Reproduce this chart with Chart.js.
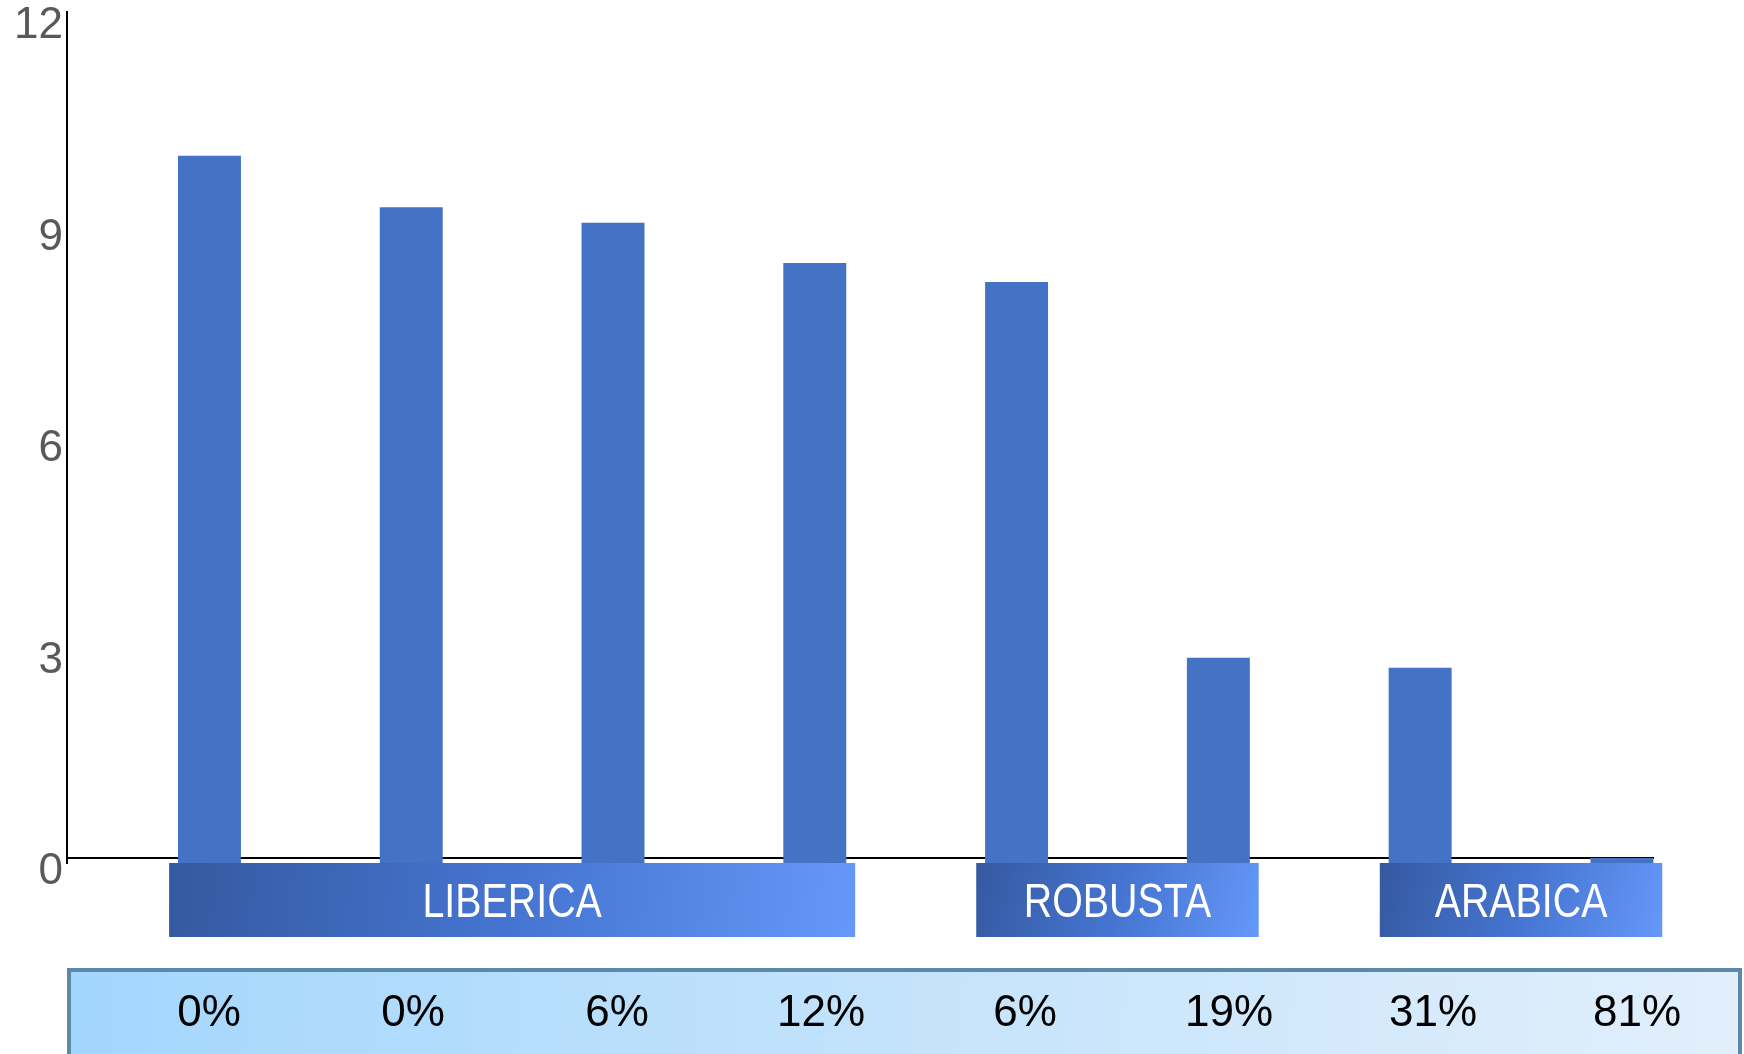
<!DOCTYPE html>
<html>
<head>
<meta charset="utf-8">
<script src="https://cdn.jsdelivr.net/npm/chart.js@4/dist/chart.umd.min.js"></script>
<style>
  html, body { margin: 0; padding: 0; background: #fff; }
  #wrap { width: 1744px; height: 1054px; position: relative; }
</style>
</head>
<body>
<div id="wrap"><canvas id="beanChart"></canvas></div>
<script>
// bar values, one per sample
const values = [9.96, 9.23, 9.01, 8.44, 8.17, 2.84, 2.70, 0];
// share row under the chart
const shares = ['0%', '0%', '6%', '12%', '6%', '19%', '31%', '81%'];
// species groups (first and last bar index)
const groupNames = ['LIBERICA', 'ROBUSTA', 'ARABICA'];
const groupFirst = [0, 4, 6];
const groupLast = [3, 5, 7];
const yTicks = [0, 3, 6, 9, 12];

Chart.defaults.font.family = "'Liberation Sans', Arial, sans-serif";

const slotTicks = s => { s.ticks = values.map((v, i) => ({ value: i })); };

// group boxes + share strip below the plot
const bottomRows = {
    id: 'bottomRows',
    afterDraw(chart) {
        const ctx = chart.ctx;
        const x = chart.scales.x;
        const pct = chart.scales.pct;
        const top = chart.chartArea.bottom;
        const h = 74;

        ctx.save();
        groupNames.forEach((name, i) => {
            const left = x.getPixelForValue(groupFirst[i] - 0.2);
            const right = x.getPixelForValue(groupLast[i] + 0.2);
            const g = ctx.createLinearGradient(left, top, right, top + h);
            g.addColorStop(0, '#3559a0');
            g.addColorStop(0.5, '#4574d0');
            g.addColorStop(1, '#6598fa');
            ctx.fillStyle = g;
            ctx.fillRect(left, top, right - left, h);

            // narrow caps: squeeze regular sans horizontally
            ctx.save();
            ctx.translate((left + right) / 2, top + 54);
            ctx.scale(0.82, 1);
            ctx.fillStyle = '#fff';
            ctx.font = "48px 'Liberation Sans', Arial, sans-serif";
            ctx.textAlign = 'center';
            ctx.textBaseline = 'alphabetic';
            ctx.fillText(name, 0, 0);
            ctx.restore();
        });

        // share strip
        const sx = chart.chartArea.left;
        const sy = 968;
        const sw = chart.width - sx - 2;
        const sh = 90;
        const g2 = ctx.createLinearGradient(sx, sy, sx + sw, sy + sh);
        g2.addColorStop(0, '#a3d6fd');
        g2.addColorStop(0.5, '#c4e3fb');
        g2.addColorStop(1, '#e2effb');
        ctx.fillStyle = g2;
        ctx.fillRect(sx, sy, sw, sh);
        ctx.strokeStyle = '#5a8aa8';
        ctx.lineWidth = 4;
        ctx.strokeRect(sx + 2, sy + 2, sw - 4, sh);

        ctx.fillStyle = '#000';
        ctx.font = "44px 'Liberation Sans', Arial, sans-serif";
        ctx.textAlign = 'center';
        ctx.textBaseline = 'alphabetic';
        shares.forEach((s, i) => {
            ctx.fillText(s, pct.getPixelForValue(i), 1026);
        });
        ctx.restore();
    }
};

new Chart(document.getElementById('beanChart'), {
    type: 'bar',
    data: {
        datasets: [{
            data: values.map((v, i) => ({ x: i, y: v })),
            backgroundColor: '#4472c4',
            borderWidth: 0,
            base: -0.071,
            barPercentage: 0.312,
            categoryPercentage: 1
        }]
    },
    options: {
        responsive: true,
        maintainAspectRatio: false,
        animation: false,
        layout: { padding: { top: 12, right: 90, bottom: 191, left: 0 } },
        plugins: {
            legend: { display: false },
            tooltip: { enabled: false }
        },
        scales: {
            x: {
                type: 'linear',
                display: false,
                offset: false,
                bounds: 'data',
                min: -0.706,
                max: 7.159,
                afterBuildTicks: slotTicks
            },
            pct: {
                type: 'linear',
                axis: 'x',
                display: false,
                offset: false,
                bounds: 'data',
                min: -0.696,
                max: 7.083,
                afterBuildTicks: slotTicks
            },
            y: {
                min: -0.071,
                max: 12,
                afterBuildTicks: s => { s.ticks = yTicks.map(v => ({ value: v })); },
                afterFit: s => { s.width = 67; s.paddingTop = 0; s.paddingBottom = 0; },
                border: { display: true, color: '#000', width: 2 },
                grid: {
                    drawTicks: false,
                    lineWidth: 2,
                    color: c => (c.tick && c.tick.value === 0 ? '#000' : 'rgba(0,0,0,0)')
                },
                ticks: {
                    color: '#595959',
                    font: { size: 44 },
                    padding: 4,
                    labelOffset: 14
                }
            }
        }
    },
    plugins: [bottomRows]
});
</script>
</body>
</html>
